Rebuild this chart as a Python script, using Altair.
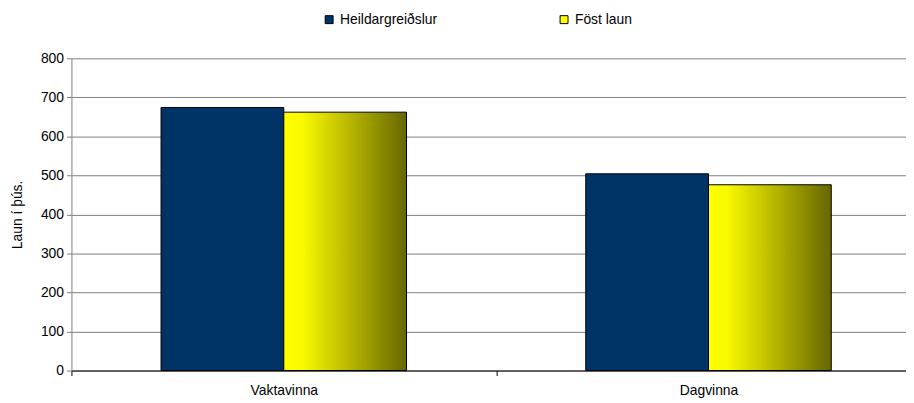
import altair as alt
import pandas as pd

categories = ["Vaktavinna", "Dagvinna"]
series = ["Heildargreiðslur", "Föst laun"]
heildar = [674, 504]
fost = [662, 476]
y_ticks = [0, 100, 200, 300, 400, 500, 600, 700, 800]

rows = []
for c, h, f in zip(categories, heildar, fost):
    rows.append({"cat": c, "series": series[0], "value": h})
    rows.append({"cat": c, "series": series[1], "value": f})
df = pd.DataFrame(rows)

FONT = "Liberation Sans"
FS = 14

gradient = {
    "gradient": "linear",
    "x1": 0, "y1": 0, "x2": 1, "y2": 0,
    "stops": [
        {"offset": 0, "color": "#ffff00"},
        {"offset": 0.15, "color": "#fafa00"},
        {"offset": 1, "color": "#666600"},
    ],
}

x = alt.X(
    "cat:N", sort=categories, title=None,
    scale=alt.Scale(paddingInner=0, paddingOuter=0),
    axis=alt.Axis(labelAngle=0, tickBand="extent", grid=False,
                  domainColor="#000000", tickColor="#000000", tickSize=5,
                  labelPadding=8, labelFont=FONT, labelFontSize=FS,
                  labelColor="#000000"),
)
xoff = alt.XOffset(
    "series:N", sort=series,
    scale=alt.Scale(domain=series, paddingInner=0, paddingOuter=0.73),
)
y = alt.Y(
    "value:Q", title="Laun í þús.",
    scale=alt.Scale(domain=[0, 800], nice=False),
    axis=alt.Axis(values=y_ticks, gridColor="#808080", gridWidth=1,
                  domainColor="#808080", tickColor="#808080", tickSize=5,
                  labelPadding=3, labelFont=FONT, labelFontSize=FS,
                  labelColor="#000000", titleFont=FONT, titleFontSize=FS,
                  titleFontWeight="normal", titleColor="#000000",
                  titlePadding=16),
)
color = alt.Color(
    "series:N",
    scale=alt.Scale(domain=series, range=["#003366", "#ffff00"]),
    legend=alt.Legend(
        title=None, orient="none", direction="horizontal",
        legendX=253, legendY=-46, padding=0,
        symbolType="square", symbolSize=64, symbolStrokeColor="#000000",
        symbolStrokeWidth=1, symbolOpacity=1,
        labelFont=FONT, labelFontSize=FS, labelColor="#000000",
        labelOffset=4, columnPadding=120,
    ),
)

base = alt.Chart(df).encode(x=x, xOffset=xoff, y=y, color=color)

layer1 = base.transform_filter(alt.datum.series == series[0]).mark_bar(
    stroke="#000000", strokeWidth=1
)
layer2 = base.transform_filter(alt.datum.series == series[1]).mark_bar(
    stroke="#000000", strokeWidth=1
).encode(fill=alt.value(gradient))

chart = alt.layer(layer1, layer2).properties(
    width=906, height=315,
    autosize=alt.AutoSizeParams(type="fit-x", contains="padding"),
    padding={"left": 2, "top": 42, "right": -16, "bottom": 2},
    background="white",
).configure_view(stroke=None)

chart.save("out.html", embed_options={"renderer": "svg", "actions": False})
